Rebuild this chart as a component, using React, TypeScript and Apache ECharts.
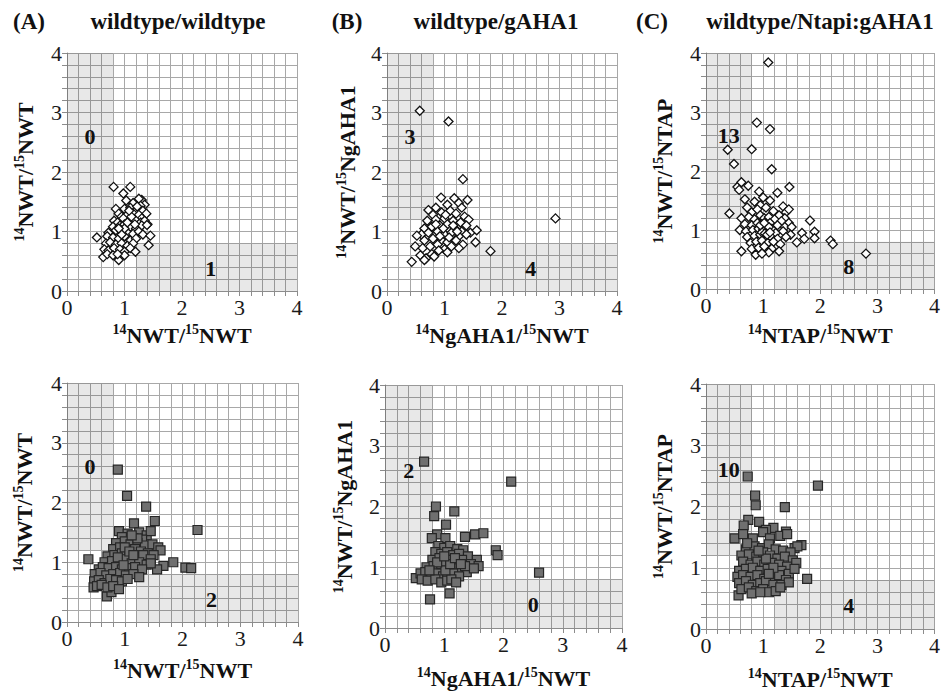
import React, { useEffect, useRef } from 'react';
import * as echarts from 'echarts';

const FONT = '"Liberation Serif", "Times New Roman", serif';

const panelLetters = ['(A)', '(B)', '(C)'];
const panelTitles = ['wildtype/wildtype', 'wildtype/gAHA1', 'wildtype/Ntapi:gAHA1'];
const xNames = [['NWT', 'NWT'], ['NgAHA1', 'NWT'], ['NTAP', 'NWT']];
const yNames = [['NWT', 'NWT'], ['NWT', 'NgAHA1'], ['NWT', 'NTAP']];
const countsUpperLeft = [0, 3, 13, 0, 2, 10];
const countsLowerRight = [1, 4, 8, 2, 0, 4];
const countPosUpperLeft = [0.4, 2.6];
const countPosLowerRight = [2.5, 0.38];
const shadeUpperLeft = [0, 0.8, 1.2, 4];
const shadeLowerRight = [1.2, 4, 0, 0.8];
const tickLabels = [0, 1, 2, 3, 4];

const dataTopA: number[][] = [
  [0.81, 1.75], [1.10, 1.75], [0.98, 1.64], [1.03, 1.52], [1.30, 1.53], [1.25, 1.55], [1.15, 1.48], [1.35, 1.45], [1.28, 1.43],
  [0.85, 1.38], [1.00, 1.38], [1.10, 1.40], [1.20, 1.36], [1.32, 1.35], [1.38, 1.30],
  [0.90, 1.30], [0.95, 1.25], [1.05, 1.28], [1.15, 1.30], [1.25, 1.28], [1.30, 1.22],
  [0.82, 1.18], [0.88, 1.15], [0.98, 1.22], [1.08, 1.18], [1.18, 1.20], [1.28, 1.15], [1.40, 1.12], [1.35, 1.18],
  [0.80, 1.08], [0.92, 1.10], [1.00, 1.12], [1.10, 1.08], [1.20, 1.05], [1.30, 1.10], [1.39, 1.11],
  [0.72, 0.98], [0.85, 1.02], [0.95, 1.00], [1.05, 0.98], [1.15, 0.96], [1.25, 1.00], [1.32, 0.95],
  [0.52, 0.90], [0.70, 0.92], [0.80, 0.90], [0.90, 0.88], [1.00, 0.92], [1.10, 0.85], [1.20, 0.88], [1.45, 0.93],
  [0.68, 0.80], [0.75, 0.82], [0.85, 0.78], [0.95, 0.80], [1.05, 0.76], [1.15, 0.80], [1.42, 0.77],
  [0.65, 0.70], [0.72, 0.68], [0.82, 0.72], [0.92, 0.70], [1.00, 0.66], [1.10, 0.72], [1.19, 0.66],
  [0.63, 0.57], [0.70, 0.62], [0.80, 0.60], [0.90, 0.52], [1.00, 0.60], [0.88, 0.62],
  [1.00, 1.05], [1.05, 1.15], [0.95, 0.95], [1.12, 1.25], [0.90, 1.05], [1.18, 1.12], [1.22, 1.42], [1.08, 1.35],
];

const dataTopB: number[][] = [
  [0.57, 3.03], [1.07, 2.85], [1.32, 1.88], [2.93, 1.22], [1.80, 0.67], [0.43, 0.49],
  [0.94, 1.57], [1.17, 1.56], [1.40, 1.53], [1.25, 1.48], [1.05, 1.45], [0.85, 1.40], [0.72, 1.36], [1.30, 1.40],
  [0.80, 1.28], [0.95, 1.32], [1.10, 1.35], [1.20, 1.30], [1.35, 1.25], [1.42, 1.20],
  [0.70, 1.18], [0.85, 1.20], [1.00, 1.22], [1.15, 1.18], [1.28, 1.15], [1.38, 1.10],
  [0.65, 1.05], [0.78, 1.08], [0.92, 1.10], [1.05, 1.12], [1.18, 1.05], [1.30, 1.00], [1.45, 0.98], [1.56, 1.02],
  [0.60, 0.95], [0.72, 0.98], [0.88, 1.00], [1.00, 0.96], [1.12, 0.98], [1.25, 0.92], [1.38, 0.95],
  [0.52, 0.93], [0.65, 0.85], [0.80, 0.88], [0.95, 0.85], [1.05, 0.82], [1.20, 0.85], [1.32, 0.78], [1.54, 0.82],
  [0.49, 0.75], [0.62, 0.72], [0.75, 0.75], [0.88, 0.78], [1.00, 0.70], [1.12, 0.75], [1.25, 0.72],
  [0.58, 0.60], [0.68, 0.55], [0.78, 0.62], [0.65, 0.52], [0.82, 0.58], [1.05, 0.65], [0.90, 0.68],
  [0.98, 1.05], [1.08, 0.90], [0.92, 0.92], [1.15, 1.10], [0.85, 1.12], [1.22, 1.00], [1.02, 1.28],
];

const dataTopC: number[][] = [
  [1.09, 3.84], [0.89, 2.82], [1.12, 2.71], [0.38, 2.36], [0.80, 2.37], [0.49, 2.12], [1.15, 2.03],
  [0.55, 1.73], [0.62, 1.81], [0.74, 1.75], [0.58, 1.68], [1.46, 1.73], [1.25, 1.63], [0.93, 1.65], [0.41, 1.28],
  [0.68, 1.52], [0.85, 1.48], [1.00, 1.55], [1.12, 1.50], [0.95, 1.42], [1.35, 1.40], [1.40, 1.30], [1.45, 1.35],
  [0.72, 1.38], [0.80, 1.30], [0.90, 1.35], [1.05, 1.38], [1.18, 1.32], [1.28, 1.25], [1.38, 1.20],
  [0.62, 1.20], [0.75, 1.22], [0.85, 1.18], [0.95, 1.25], [1.02, 1.20], [1.10, 1.22], [1.20, 1.18], [1.32, 1.15], [1.45, 1.12],
  [0.68, 1.10], [0.80, 1.08], [0.90, 1.12], [0.98, 1.10], [1.05, 1.08], [1.12, 1.12], [1.25, 1.08], [1.38, 1.05], [1.50, 1.05],
  [0.59, 1.00], [0.70, 0.98], [0.82, 1.00], [0.92, 1.02], [1.00, 1.00], [1.08, 0.98], [1.15, 1.02], [1.22, 0.95], [1.35, 0.98], [1.48, 0.92],
  [0.72, 0.88], [0.85, 0.90], [0.95, 0.92], [1.05, 0.88], [1.12, 0.90], [1.25, 0.85], [1.40, 0.88],
  [0.78, 0.78], [0.88, 0.80], [0.98, 0.82], [1.08, 0.78], [1.18, 0.80], [1.30, 0.76],
  [0.80, 0.68], [0.92, 0.70], [1.02, 0.72], [1.15, 0.68],
  [0.62, 0.64], [0.87, 0.58], [1.10, 0.62], [1.28, 0.64], [0.98, 0.60],
  [1.82, 1.16], [1.68, 0.95], [1.90, 0.97], [1.90, 0.86], [1.59, 0.79], [1.72, 0.85], [2.18, 0.82], [2.22, 0.76], [2.80, 0.60],
  [1.00, 1.05], [1.05, 1.02], [1.08, 1.06], [0.98, 0.96], [1.03, 0.94], [1.10, 1.05], [0.95, 1.08], [1.02, 1.12], [1.07, 0.92], [1.12, 0.96],
];

const dataBottomA: number[][] = [
  [0.88, 2.55], [1.04, 2.11], [1.37, 1.93], [1.52, 1.69], [2.26, 1.54], [1.16, 1.65], [0.37, 1.05], [1.84, 1.00], [2.05, 0.91], [2.15, 0.90], [1.67, 0.94], [1.56, 0.88], [0.69, 0.43], [0.77, 0.50],
  [0.90, 1.52], [1.05, 1.48], [1.25, 1.50], [1.38, 1.45], [1.45, 1.52], [0.95, 1.42], [1.15, 1.40], [1.30, 1.38],
  [0.85, 1.32], [1.00, 1.35], [1.10, 1.30], [1.22, 1.32], [1.35, 1.28], [1.48, 1.30], [1.58, 1.25], [1.62, 1.20],
  [0.80, 1.22], [0.92, 1.25], [1.05, 1.20], [1.18, 1.22], [1.28, 1.18], [1.40, 1.15], [1.50, 1.12],
  [0.70, 1.10], [0.82, 1.12], [0.95, 1.15], [1.08, 1.10], [1.20, 1.08], [1.32, 1.12], [1.45, 1.05],
  [0.65, 1.00], [0.78, 1.02], [0.90, 1.00], [1.00, 1.05], [1.12, 0.98], [1.25, 1.00], [1.38, 0.96], [1.45, 0.98],
  [0.55, 0.88], [0.62, 0.92], [0.72, 0.90], [0.85, 0.92], [0.95, 0.88], [1.05, 0.90], [1.18, 0.92], [1.30, 0.88],
  [0.48, 0.80], [0.58, 0.82], [0.68, 0.78], [0.80, 0.80], [0.92, 0.82], [1.02, 0.78], [1.15, 0.80], [1.25, 0.75],
  [0.47, 0.68], [0.55, 0.70], [0.65, 0.65], [0.75, 0.72], [0.85, 0.70], [0.95, 0.68], [1.05, 0.72],
  [0.46, 0.58], [0.52, 0.60], [0.60, 0.62], [0.70, 0.58], [0.80, 0.60], [0.90, 0.55],
  [1.00, 1.25], [1.08, 1.18], [0.88, 1.08], [1.15, 1.12], [0.98, 0.95], [1.22, 1.40], [1.12, 1.45],
];

const dataBottomB: number[][] = [
  [0.66, 2.74], [2.13, 2.41], [0.86, 2.00], [0.83, 1.84], [1.17, 1.92], [1.03, 1.70], [0.88, 1.54], [0.79, 1.48], [1.35, 1.50], [1.52, 1.54], [1.66, 1.56], [1.87, 1.28], [1.90, 1.20], [2.60, 0.91], [0.52, 0.82], [0.76, 0.47], [1.09, 0.57], [1.02, 1.48],
  [0.90, 1.35], [1.00, 1.32], [1.10, 1.35], [1.22, 1.30], [1.32, 1.28], [0.85, 1.25], [0.95, 1.22], [1.05, 1.25], [1.15, 1.20], [1.25, 1.22], [1.40, 1.18], [1.55, 1.12],
  [0.80, 1.12], [0.92, 1.15], [1.00, 1.10], [1.12, 1.12], [1.20, 1.08], [1.30, 1.12], [1.45, 1.05], [1.58, 1.02],
  [0.70, 1.00], [0.82, 1.02], [0.90, 0.98], [1.00, 1.00], [1.08, 1.02], [1.18, 0.98], [1.28, 0.95], [1.38, 0.92], [1.50, 0.98],
  [0.60, 0.90], [0.68, 0.92], [0.78, 0.88], [0.88, 0.90], [0.98, 0.85], [1.05, 0.88], [1.15, 0.90], [1.25, 0.85],
  [0.62, 0.80], [0.72, 0.78], [0.85, 0.80], [0.95, 0.75], [1.05, 0.78], [1.12, 0.80], [1.20, 0.75],
  [0.95, 1.05], [1.02, 0.95], [1.10, 1.05], [0.88, 1.08], [1.18, 1.15], [1.35, 1.02], [0.75, 0.95], [1.28, 1.05], [1.00, 1.18],
];

const dataBottomC: number[][] = [
  [0.73, 2.49], [1.96, 2.34], [0.86, 2.18], [0.87, 2.02], [1.38, 1.99], [0.50, 1.48], [1.77, 0.82], [1.67, 1.37], [0.57, 0.55], [0.74, 1.78], [0.93, 1.75], [1.18, 1.65], [1.40, 1.59], [0.66, 1.69], [1.05, 1.62],
  [0.65, 1.55], [0.82, 1.48], [1.00, 1.58], [1.12, 1.48], [1.30, 1.52], [1.42, 1.55], [1.55, 1.32], [1.60, 1.35],
  [0.70, 1.30], [0.85, 1.35], [0.98, 1.32], [1.10, 1.38], [1.22, 1.30], [1.35, 1.28], [1.48, 1.25],
  [0.62, 1.20], [0.75, 1.22], [0.88, 1.18], [1.00, 1.25], [1.12, 1.20], [1.25, 1.15], [1.38, 1.18], [1.52, 1.12],
  [0.65, 1.10], [0.78, 1.05], [0.90, 1.10], [1.02, 1.05], [1.15, 1.08], [1.28, 1.05], [1.42, 1.02], [1.58, 1.08],
  [0.58, 0.95], [0.70, 0.98], [0.82, 1.00], [0.95, 0.95], [1.08, 0.98], [1.20, 0.92], [1.32, 0.95], [1.45, 0.90], [1.55, 0.98],
  [0.55, 0.85], [0.65, 0.88], [0.78, 0.85], [0.90, 0.88], [1.02, 0.82], [1.15, 0.85], [1.28, 0.88], [1.40, 0.80],
  [0.58, 0.75], [0.70, 0.78], [0.82, 0.72], [0.95, 0.75], [1.05, 0.78], [1.18, 0.72], [1.32, 0.72], [1.45, 0.76],
  [0.62, 0.65], [0.75, 0.68], [0.88, 0.62], [1.00, 0.65], [1.10, 0.60], [1.22, 0.62], [1.30, 0.68],
  [0.80, 0.58], [0.95, 0.60], [1.05, 1.15], [0.92, 1.28], [1.18, 1.00], [0.72, 1.40], [1.10, 0.90],
];

const panelData = [dataTopA, dataTopB, dataTopC, dataBottomA, dataBottomB, dataBottomC];

// layout (pixels)
const layout = [
  { left: 67, top: 53, width: 230, height: 238, xGap: 31, yGap: 29 },
  { left: 387, top: 53, width: 230, height: 238, xGap: 31, yGap: 27 },
  { left: 706, top: 53, width: 232, height: 236, xGap: 33, yGap: 29 },
  { left: 67, top: 383, width: 231, height: 239, xGap: 35, yGap: 30 },
  { left: 385, top: 385, width: 237, height: 243, xGap: 37, yGap: 28 },
  { left: 706, top: 384, width: 240, height: 246, xGap: 37, yGap: 29 },
];

const letterX = [29, 347, 652];
const titleX = [178, 496, 820];

const axisName = (a: string, b: string) => `{sup|14}{b|${a}/}{sup|15}{b|${b}}`;

const nameRich = {
  b: { fontFamily: FONT, fontWeight: 'bold', fontSize: 22, color: '#111', lineHeight: 26 },
  sup: { fontFamily: FONT, fontWeight: 'bold', fontSize: 14, color: '#111', lineHeight: 15, verticalAlign: 'top' },
};

export default function App() {
  const ref = useRef<HTMLDivElement>(null);
  useEffect(() => {
    if (!ref.current) return;
    const chart = echarts.init(ref.current, undefined, { renderer: 'svg' });
    const grid: any[] = [];
    const xAxis: any[] = [];
    const yAxis: any[] = [];
    const series: any[] = [];
    panelData.forEach((data, i) => {
      const L = layout[i];
      const col = i % 3;
      const top = i < 3;
      grid.push({ left: L.left, top: L.top, width: L.width, height: L.height, containLabel: false });
      const common = {
        type: 'value',
        gridIndex: i,
        min: 0,
        max: 4,
        interval: 0.2,
        nameLocation: 'middle',
        nameTextStyle: { rich: nameRich },
        axisLine: { show: true, lineStyle: { color: '#8c8c8c', width: 1 } },
        axisTick: { show: true, length: 5, lineStyle: { color: '#8c8c8c' } },
        splitLine: { show: true, lineStyle: { color: '#a8a8a8', width: 1 } },
        axisLabel: {
          fontFamily: FONT,
          fontSize: 22,
          color: '#1a1a1a',
          margin: 5,
          formatter: (v: number) => {
            const r = Math.round(v);
            return Math.abs(v - r) < 1e-6 && tickLabels.includes(r) ? String(r) : '';
          },
        },
      };
      xAxis.push({ ...common, name: axisName(xNames[col][0], xNames[col][1]), nameGap: L.xGap });
      yAxis.push({ ...common, name: axisName(yNames[col][0], yNames[col][1]), nameGap: L.yGap });
      // shaded quadrants (markArea) on an invisible helper series
      series.push({
        type: 'scatter',
        xAxisIndex: i,
        yAxisIndex: i,
        z: 1,
        symbolSize: 0,
        itemStyle: { color: 'transparent' },
        silent: true,
        data: [countPosUpperLeft, countPosLowerRight],
        markArea: {
          silent: true,
          itemStyle: { color: 'rgba(0,0,0,0.09)', opacity: 1 },
          data: [
            [
              { coord: [shadeUpperLeft[0], shadeUpperLeft[2]] },
              { coord: [shadeUpperLeft[1], shadeUpperLeft[3]] },
            ],
            [
              { coord: [shadeLowerRight[0], shadeLowerRight[2]] },
              { coord: [shadeLowerRight[1], shadeLowerRight[3]] },
            ],
          ],
        },
      });
      series.push({
        type: 'scatter',
        xAxisIndex: i,
        yAxisIndex: i,
        z: 3,
        symbol: top ? 'diamond' : 'rect',
        symbolSize: 9,
        itemStyle: top
          ? { color: '#ffffff', borderColor: '#111', borderWidth: 1.3, opacity: 1 }
          : { color: '#6f6f6f', borderColor: '#262626', borderWidth: 1.2, opacity: 1 },
        data,
      });
    });
    const graphic: any[] = [];
    panelLetters.forEach((t, k) => {
      graphic.push({
        type: 'text',
        x: letterX[k],
        y: 21,
        style: { text: t, font: `bold 23px ${FONT}`, fill: '#111', textAlign: 'center', textVerticalAlign: 'middle' },
      });
      graphic.push({
        type: 'text',
        x: titleX[k],
        y: 21,
        style: { text: panelTitles[k], font: `bold 23px ${FONT}`, fill: '#111', textAlign: 'center', textVerticalAlign: 'middle' },
      });
    });
    chart.setOption({
      animation: false,
      backgroundColor: '#ffffff',
      grid,
      xAxis,
      yAxis,
      series,
      graphic,
    });
    // count annotations positioned through the axes' scales
    const countTexts: any[] = [];
    panelData.forEach((_, i) => {
      const pairs: [number[], number][] = [
        [countPosUpperLeft, countsUpperLeft[i]],
        [countPosLowerRight, countsLowerRight[i]],
      ];
      pairs.forEach(([pos, n]) => {
        const px = chart.convertToPixel({ gridIndex: i } as any, pos) as number[];
        countTexts.push({
          type: 'text',
          x: px[0],
          y: px[1],
          z: 10,
          style: {
            text: String(n),
            font: `bold 22px ${FONT}`,
            fill: '#111',
            textAlign: 'center',
            textVerticalAlign: 'middle',
          },
        });
      });
    });
    chart.setOption({ graphic: [...graphic, ...countTexts] });
    return () => chart.dispose();
  }, []);
  return <div ref={ref} style={{ position: 'fixed', left: 0, top: 0, width: 943, height: 691 }} />;
}
